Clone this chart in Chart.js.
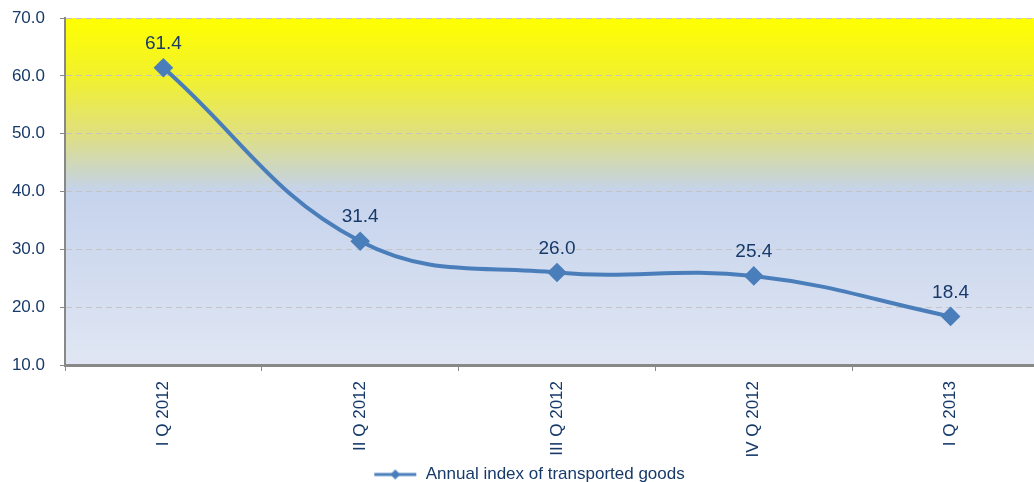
<!DOCTYPE html>
<html>
<head>
<meta charset="utf-8">
<script src="https://cdn.jsdelivr.net/npm/chart.js@4/dist/chart.umd.min.js"></script>
<style>
  body { margin: 0; background: #fff; overflow: hidden; }
  #wrap { width: 1060px; height: 493px; }
</style>
</head>
<body>
<div id="wrap"><canvas id="myChart" width="1060" height="493"></canvas></div>
<script>
// chart data
const quarters = ['I Q 2012', 'II Q 2012', 'III Q 2012', 'IV Q 2012', 'I Q 2013'];
const indexValues = [61.4, 31.4, 26.0, 25.4, 18.4];
const seriesName = 'Annual index of transported goods';
const yMin = 10, yMax = 70, yStep = 10;

const navy = '#173A6A';
const lineBlue = '#4A7EBB';
const fontFam = '"Liberation Sans", Arial, sans-serif';
const plotBottom = 365;

// little legend symbol: line with a diamond on it
const legendIcon = document.createElement('canvas');
legendIcon.width = 44;
legendIcon.height = 14;
(function () {
    const c = legendIcon.getContext('2d');
    c.strokeStyle = lineBlue;
    c.lineWidth = 3;
    c.beginPath();
    c.moveTo(1, 7);
    c.lineTo(43, 7);
    c.stroke();
    c.fillStyle = lineBlue;
    c.beginPath();
    c.moveTo(22, 2);
    c.lineTo(27, 7);
    c.lineTo(22, 12);
    c.lineTo(17, 7);
    c.closePath();
    c.fill();
})();

// background gradient behind the plot area
const bgPlugin = {
    id: 'bgGradient',
    beforeDraw(chart) {
        const a = chart.chartArea;
        const c = chart.ctx;
        const g = c.createLinearGradient(0, a.top, 0, a.bottom);
        g.addColorStop(0, '#FFFF00');
        g.addColorStop(0.17, '#F1F12E');
        g.addColorStop(0.33, '#E0E07E');
        g.addColorStop(0.44, '#CCD6C6');
        g.addColorStop(0.5, '#C5D3EC');
        g.addColorStop(1, '#E0E6F3');
        c.save();
        c.fillStyle = g;
        c.fillRect(a.left, a.top, a.right - a.left, a.bottom - a.top);
        c.restore();
    }
};

// value labels above the points
const valueLabels = {
    id: 'valueLabels',
    afterDatasetsDraw(chart) {
        const c = chart.ctx;
        const meta = chart.getDatasetMeta(0);
        c.save();
        c.font = '19px ' + fontFam;
        c.fillStyle = navy;
        c.textAlign = 'center';
        c.textBaseline = 'middle';
        meta.data.forEach((pt, i) => {
            c.fillText(indexValues[i].toFixed(1), pt.x, pt.y - 24);
        });
        c.restore();
    }
};

const ctx = document.getElementById('myChart').getContext('2d');
let myChart = new Chart(ctx, {
    type: 'line',
    data: {
        labels: quarters,
        datasets: [{
            label: seriesName,
            data: indexValues,
            borderColor: lineBlue,
            backgroundColor: lineBlue,
            borderWidth: 4,
            tension: 0.4,
            pointStyle: 'rectRot',
            pointRadius: 7,
            pointHoverRadius: 7,
            fill: false
        }]
    },
    options: {
        responsive: false,
        animation: false,
        layout: { padding: { top: 18, left: 0, right: 2, bottom: 0 } },
        font: { family: fontFam },
        plugins: {
            tooltip: { enabled: false },
            legend: {
                position: 'bottom',
                labels: {
                    usePointStyle: true,
                    pointStyle: legendIcon,
                    pointStyleWidth: 44,
                    color: navy,
                    padding: 0,
                    font: { size: 17, family: fontFam },
                    generateLabels: () => [{
                        text: seriesName,
                        pointStyle: legendIcon,
                        fillStyle: lineBlue,
                        strokeStyle: lineBlue,
                        lineWidth: 0,
                        fontColor: navy
                    }]
                }
            }
        },
        scales: {
            y: {
                min: yMin,
                max: yMax,
                afterFit(scale) {
                    scale.width = 65;
                    scale.paddingTop = 0;
                    scale.paddingBottom = 0;
                },
                ticks: {
                    stepSize: yStep,
                    padding: 15,
                    color: navy,
                    font: { size: 17, family: fontFam },
                    callback: v => v.toFixed(1)
                },
                grid: {
                    color: '#C4C4C4',
                    tickColor: '#888888',
                    tickLength: 5,
                    tickBorderDash: []
                },
                border: { color: '#888888', width: 2, dash: [6, 4] }
            },
            x: {
                offset: true,
                afterFit(scale) {
                    const lg = scale.chart.legend ? scale.chart.legend.height : 0;
                    scale.height = scale.chart.height - plotBottom - lg;
                },
                ticks: {
                    minRotation: 90,
                    maxRotation: 90,
                    padding: 10,
                    color: navy,
                    font: { size: 17, family: fontFam }
                },
                grid: {
                    offset: true,
                    drawOnChartArea: false,
                    tickColor: '#888888',
                    tickLength: 6
                },
                border: { color: '#888888', width: 3 }
            }
        }
    },
    plugins: [bgPlugin, valueLabels]
});
</script>
</body>
</html>
